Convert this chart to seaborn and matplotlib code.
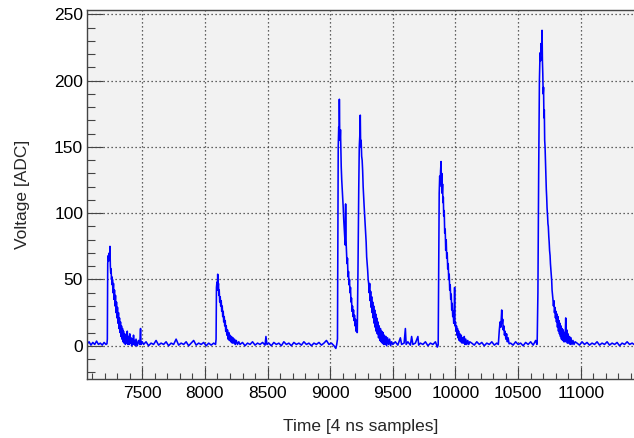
import matplotlib
matplotlib.use("Agg")
import numpy as np
import pandas as pd
import seaborn as sns
import matplotlib.pyplot as plt
from matplotlib.ticker import MultipleLocator

# ---------------- data ----------------
base1_t = [7061, 7075, 7090, 7105, 7120, 7135, 7150, 7165, 7180, 7195, 7210, 7218]
base1_v = [1.5, 3, 0.5, 2.5, 1, 3.5, 1, 2, 0.5, 2.5, 1, 1.5]

pulse1_t = [7221, 7224, 7228, 7232, 7236, 7240, 7242, 7245, 7248, 7251, 7254, 7257, 7260,
            7262, 7266, 7270, 7274, 7278, 7282, 7286, 7290, 7294, 7298, 7302, 7306, 7310,
            7314, 7318, 7322, 7326, 7330, 7334, 7338, 7342, 7346, 7350, 7355, 7360, 7365,
            7370, 7375, 7380, 7385, 7390, 7395, 7400, 7405, 7410, 7415, 7420, 7425, 7430,
            7435, 7440, 7445, 7450, 7460, 7470, 7480, 7486, 7490]
pulse1_v = [5, 62, 68, 64, 70, 66, 75, 60, 55, 58, 50, 52, 46,
            50, 40, 47, 35, 42, 30, 38, 25, 33, 21, 29, 17, 25,
            13, 21, 10, 18, 7, 15, 5, 13, 3, 11, 2, 9, 1,
            8, 2, 11, 1, 7, 1, 9, 2, 6, 0, 5, 1, 8,
            1, 4, 0, 5, 0, 4, 1, 13, 1]

base2_t = [7500, 7510, 7530, 7550, 7570, 7590, 7610, 7630, 7650, 7670, 7690, 7710, 7730,
           7750, 7770, 7790, 7810, 7830, 7850, 7870, 7890, 7910, 7930, 7950, 7970, 7990,
           8010, 8030, 8050, 8070, 8085]
base2_v = [3, 1, 3, 0, 2, 1, 4, 0.5, 2, 1, 3, 0, 2,
           1, 5, 0.5, 2, 1, 3, 0, 2, 4, 0.5, 2, 1, 2.5,
           0, 2, 0.5, 2, 1]

pulse2_t = [8089, 8092, 8096, 8099, 8102, 8105, 8108, 8111, 8114, 8118, 8122, 8126, 8130,
            8134, 8138, 8142, 8146, 8150, 8154, 8158, 8162, 8166, 8170, 8175, 8180, 8185,
            8190, 8195, 8200, 8206, 8212, 8218, 8224, 8230, 8236, 8242, 8250, 8260, 8270]
pulse2_v = [5, 44, 48, 42, 54, 44, 47, 38, 42, 33, 37, 30, 34,
            26, 30, 22, 26, 18, 22, 15, 19, 11, 15, 8, 12, 5,
            10, 4, 8, 3, 7, 2, 6, 2, 5, 1, 4, 1, 3]

base3_t = [8280, 8300, 8320, 8340, 8360, 8380, 8400, 8420, 8440, 8460, 8480, 8487, 8495,
           8510, 8530, 8550, 8570, 8590, 8610, 8630, 8650, 8670, 8690, 8710, 8730, 8750,
           8770, 8790, 8810, 8830, 8850, 8870, 8890, 8910, 8930, 8950, 8970, 8990, 9010,
           9030, 9045, 9052]
base3_v = [1, 2.5, 0, 2, 1, 3, 0.5, 2, 1, 2.5, 0.5, 7, 1,
           2, 0, 2.5, 1, 2, 0, 3, 1, 2, 0, 2.5, 1, 2,
           0.5, 3, 1, 2, 0, 2, 1, 2.5, 0.5, 2, 4, 1, 2,
           0, -2, 1]

pulse3_t = [9058, 9064, 9068, 9071, 9073, 9076, 9079, 9082, 9085, 9088, 9092, 9096, 9100,
            9104, 9108, 9112, 9116, 9120, 9123, 9126, 9130, 9134, 9138, 9142, 9146, 9150,
            9154, 9158, 9162, 9166, 9170, 9174, 9178, 9182, 9186, 9190, 9194, 9198, 9202,
            9206, 9210, 9214]
pulse3_v = [5, 150, 165, 158, 186, 160, 155, 163, 150, 135, 125, 118, 112,
            104, 95, 88, 82, 76, 107, 80, 70, 62, 66, 52, 56, 46,
            50, 40, 44, 33, 36, 26, 30, 22, 27, 19, 23, 15, 20,
            11, 16, 10]

pulse4_t = [9216, 9222, 9228, 9232, 9236, 9240, 9243, 9247, 9251, 9255, 9259, 9263, 9267,
            9271, 9275, 9279, 9283, 9287, 9291, 9295, 9299, 9303, 9307, 9311, 9315, 9319,
            9323, 9327, 9331, 9335, 9339, 9343, 9347, 9351, 9355, 9359, 9363, 9367, 9371,
            9376, 9381, 9386, 9391, 9396, 9401, 9406, 9411, 9416, 9421, 9426, 9432, 9438,
            9444, 9450, 9458, 9466, 9474, 9482, 9490]
pulse4_v = [10, 60, 120, 150, 158, 174, 150, 155, 143, 140, 132, 120, 112,
            105, 98, 91, 84, 78, 67, 62, 57, 50, 47, 40, 47, 34,
            41, 29, 37, 25, 33, 21, 30, 17, 27, 14, 24, 11, 21,
            9, 18, 6, 15, 4, 13, 3, 11, 2, 10, 1, 8, 1,
            7, 0, 6, 1, 5, 0, 3]

base4_t = [9500, 9520, 9540, 9560, 9570, 9590, 9600, 9606, 9620, 9640, 9650, 9660, 9680,
           9700, 9706, 9720, 9740, 9760, 9780, 9800, 9820, 9840, 9855, 9860]
base4_v = [1, 3, 0.5, 6, 1, 2, 13, 1, 3, 0.5, 7, 1, 2,
           7, 0.5, 2, 1, 3, 0, 2, 1, 3, -1, 0]

pulse5_t = [9862, 9866, 9870, 9874, 9878, 9881, 9885, 9888, 9891, 9894, 9897, 9900, 9903,
            9906, 9910, 9914, 9918, 9922, 9926, 9930, 9934, 9938, 9942, 9946, 9950, 9954,
            9958, 9962, 9966, 9970, 9974, 9978, 9982, 9986, 9990, 9993, 9996, 10000, 10004,
            10008, 10012, 10016, 10020, 10025, 10030, 10035, 10040, 10046, 10052, 10058,
            10064, 10070, 10076, 10082, 10090, 10098, 10106, 10114]
pulse5_v = [1, 60, 115, 128, 122, 132, 139, 120, 130, 115, 122, 108, 112,
            98, 102, 85, 88, 72, 80, 66, 70, 58, 62, 50, 54, 42,
            46, 35, 39, 27, 32, 22, 26, 17, 21, 44, 15, 18, 11,
            15, 8, 13, 6, 11, 4, 9, 3, 8, 2, 6,
            2, 7, 1, 5, 1, 4, 1, 3]

base5_t = [10130, 10150, 10170, 10190, 10210, 10230, 10250, 10270, 10290, 10310, 10330]
base5_v = [2, 0.5, 3, 1, 2.5, 0, 2, 1, 3, 0.5, 2]

pulse6_t = [10342, 10350, 10356, 10362, 10366, 10369, 10373, 10377, 10381, 10386, 10391,
            10396, 10402, 10408, 10414, 10420, 10428]
pulse6_v = [1, 12, 18, 14, 22, 27, 17, 20, 12, 15, 8,
            11, 5, 9, 3, 6, 1.5]

base6_t = [10440, 10460, 10480, 10500, 10520, 10540, 10560, 10580, 10600, 10620, 10640, 10650]
base6_v = [2, 0.5, 3, 1, 2, 0, 2.5, 1, 3, 0.5, 4, 1]

pulse7_t = [10652, 10658, 10664, 10670, 10675, 10679, 10683, 10687, 10691, 10694, 10697,
            10700, 10703, 10706, 10709, 10712, 10715, 10718, 10721, 10725, 10728, 10731,
            10735, 10738, 10741, 10745, 10748, 10751, 10755, 10758, 10761, 10765, 10768,
            10771, 10775, 10778, 10782, 10786, 10790, 10794, 10798, 10802, 10806, 10810,
            10814, 10818, 10822, 10826, 10830, 10834, 10838, 10842, 10846, 10850, 10855,
            10860, 10865, 10870, 10875, 10880, 10884, 10888, 10893, 10898, 10904, 10910,
            10916, 10922, 10930, 10938, 10946, 10955]
pulse7_v = [2, 40, 130, 200, 221, 215, 228, 222, 238, 215, 205,
            190, 195, 172, 178, 155, 150, 140, 132, 118, 112, 104,
            98, 92, 90, 82, 78, 72, 68, 62, 58, 52, 49,
            42, 38, 35, 30, 34, 25, 29, 21, 26, 18, 24,
            14, 22, 11, 19, 9, 17, 7, 15, 5, 13, 4,
            12, 3, 10, 3, 21, 4, 12, 2, 9, 2, 7,
            1, 6, 1, 4, 1, 3]

base7_t = [10970, 10990, 11010, 11030, 11050, 11070, 11090, 11110, 11130, 11150, 11170,
           11190, 11210, 11230, 11250, 11270, 11290, 11310, 11330, 11350, 11370, 11390,
           11410, 11425]
base7_v = [2, 0.5, 3, 1, 2.5, 0.5, 2, 1, 3, 0.5, 2,
           1, 3, 0.5, 2, 1, 2.5, 0, 2, 1, 3, 1,
           2, 1]

x_ticks = [7500, 8000, 8500, 9000, 9500, 10000, 10500, 11000]
y_ticks = [0, 50, 100, 150, 200, 250]

segments_t = [base1_t, pulse1_t, base2_t, pulse2_t, base3_t, pulse3_t, pulse4_t, base4_t,
              pulse5_t, base5_t, pulse6_t, base6_t, pulse7_t, base7_t]
segments_v = [base1_v, pulse1_v, base2_v, pulse2_v, base3_v, pulse3_v, pulse4_v, base4_v,
              pulse5_v, base5_v, pulse6_v, base6_v, pulse7_v, base7_v]

df = pd.DataFrame({
    "time": np.concatenate([np.asarray(s, float) for s in segments_t]),
    "voltage": np.concatenate([np.asarray(s, float) for s in segments_v]),
})

# ---------------- style ----------------
sns.set_theme(style="ticks")
plt.rcParams["font.family"] = ["Liberation Sans", "DejaVu Sans"]

W, H = 634, 438
fig = plt.figure(figsize=(W / 100, H / 100), dpi=100)
left_px, right_px, top_px, bottom_px = 87.3, 634.0, 9.5, 379.3
ax = fig.add_axes([left_px / W, 1 - bottom_px / H,
                   (right_px - left_px) / W, (bottom_px - top_px) / H])
ax.set_facecolor("#f2f2f2")
fig.patch.set_facecolor("white")

sns.lineplot(data=df, x="time", y="voltage", ax=ax, color="#0000ff",
             linewidth=1.15, estimator=None, sort=False)

ax.set_xlim(7061, 11425)
ax.set_ylim(-25.3, 253.7)
ax.set_xticks(x_ticks)
ax.set_yticks(y_ticks)
ax.xaxis.set_minor_locator(MultipleLocator(100))
ax.yaxis.set_minor_locator(MultipleLocator(10))

ax.set_axisbelow(True)
ax.grid(True, which="major", color="#333333", linestyle=(0, (1, 2.2)), linewidth=0.9)

tick_col = "#444444"
ax.tick_params(axis="both", which="both", direction="in", color=tick_col,
               labelcolor="black", labelsize=12.5, width=0.8)
ax.tick_params(axis="y", which="major", length=11.5, pad=3)
ax.tick_params(axis="y", which="minor", length=5.8)
ax.tick_params(axis="x", which="major", length=8.6, pad=5)
ax.tick_params(axis="x", which="minor", length=4.3)

for side in ["left", "bottom", "top"]:
    ax.spines[side].set_color(tick_col)
    ax.spines[side].set_linewidth(1.0)
ax.spines["right"].set_visible(False)

ax.set_xlabel("Time [4 ns samples]", fontsize=12.5, labelpad=13)
ax.set_ylabel("Voltage [ADC]", fontsize=12.5, labelpad=17)

fig.savefig("out.png", dpi=100)
